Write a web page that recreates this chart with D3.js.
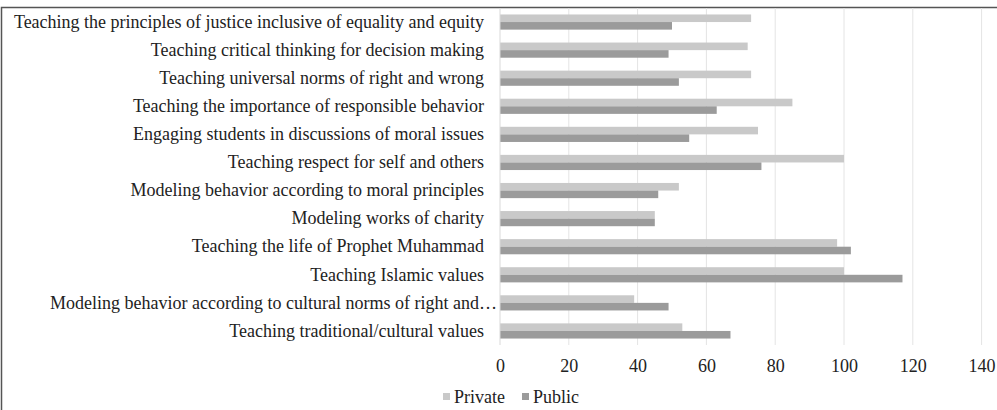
<!DOCTYPE html>
<html>
<head>
<meta charset="utf-8">
<script src="https://cdn.jsdelivr.net/npm/d3@7"></script>
<style>
  html, body { margin: 0; padding: 0; background: #fff; }
  svg { display: block; }
</style>
</head>
<body>
<svg id="chart" width="997" height="410"></svg>
<script>
const categories = [
  "Teaching the principles of justice inclusive of equality and equity",
  "Teaching critical thinking for decision making",
  "Teaching universal norms of right and wrong",
  "Teaching the importance of responsible behavior",
  "Engaging students in discussions of moral issues",
  "Teaching respect for self and others",
  "Modeling behavior according to moral principles",
  "Modeling works of charity",
  "Teaching the life of Prophet Muhammad",
  "Teaching Islamic values",
  "Modeling behavior according to cultural norms of right and\u2026",
  "Teaching traditional/cultural values"
];
const privateValues = [73, 72, 73, 85, 75, 100, 52, 45, 98, 100, 39, 53];
const publicValues  = [50, 49, 52, 63, 55, 76, 46, 45, 102, 117, 49, 67];
const seriesNames = ["Private", "Public"];
const tickValues = [0, 20, 40, 60, 80, 100, 120, 140];

const colors = { Private: "#c9c9c9", Public: "#9b9b9b" };
const svg = d3.select("#chart");
const font = "'Liberation Serif', 'Times New Roman', serif";
const fs = 18;

const x = d3.scaleLinear().domain([0, 140]).range([500, 981.6]);
const y = d3.scaleBand().domain(categories).range([8, 345]).paddingInner(0.46).paddingOuter(0.23);
const ySub = d3.scaleBand().domain(seriesNames).range([0, y.bandwidth()]);

// frame
svg.append("path")
  .attr("d", "M1.5,410 L1.5,7.5 L997,7.5")
  .attr("fill", "none").attr("stroke", "#555").attr("stroke-width", 1.5);

// gridlines
svg.append("g").selectAll("line").data(tickValues.slice(1)).join("line")
  .attr("x1", d => x(d)).attr("x2", d => x(d))
  .attr("y1", 8).attr("y2", 345)
  .attr("stroke", "#e4e4e4").attr("stroke-width", 1);

// bars
const rows = categories.map((c, i) => ({ c, Private: privateValues[i], Public: publicValues[i] }));
const g = svg.append("g");
seriesNames.forEach(s => {
  g.append("g").selectAll("rect").data(rows).join("rect")
    .attr("x", x(0))
    .attr("y", d => y(d.c) + ySub(s))
    .attr("width", d => x(d[s]) - x(0))
    .attr("height", ySub.bandwidth())
    .attr("fill", colors[s]);
});

// vertical axis line
svg.append("line").attr("x1", 500).attr("x2", 500).attr("y1", 8).attr("y2", 345)
  .attr("stroke", "#d9d9d9");

// category labels
const yAxis = svg.append("g").attr("transform", "translate(500,0)")
  .call(d3.axisLeft(y).tickSize(0).tickPadding(16));
yAxis.select(".domain").remove();
yAxis.selectAll("text").attr("font-family", font).attr("font-size", fs).attr("fill", "#222")
  .attr("dx", d => d.endsWith("\u2026") ? 13 : 0);

// x tick labels
const xAxis = svg.append("g").attr("transform", "translate(0,345)")
  .call(d3.axisBottom(x).tickValues(tickValues).tickSize(0).tickPadding(14));
xAxis.select(".domain").remove();
xAxis.selectAll("text").attr("font-family", font).attr("font-size", fs).attr("fill", "#222");

// legend
const legend = svg.append("g").attr("transform", "translate(443,397)");
const legendX = [0, 79];
seriesNames.forEach((s, i) => {
  const lg = legend.append("g").attr("transform", `translate(${legendX[i]},0)`);
  lg.append("rect").attr("x", 0).attr("y", -4).attr("width", 7).attr("height", 7).attr("fill", colors[s]);
  lg.append("text").attr("x", 11).attr("y", 0).attr("dy", "0.35em")
    .attr("font-family", font).attr("font-size", fs).attr("fill", "#222").text(s);
});
</script>
</body>
</html>
